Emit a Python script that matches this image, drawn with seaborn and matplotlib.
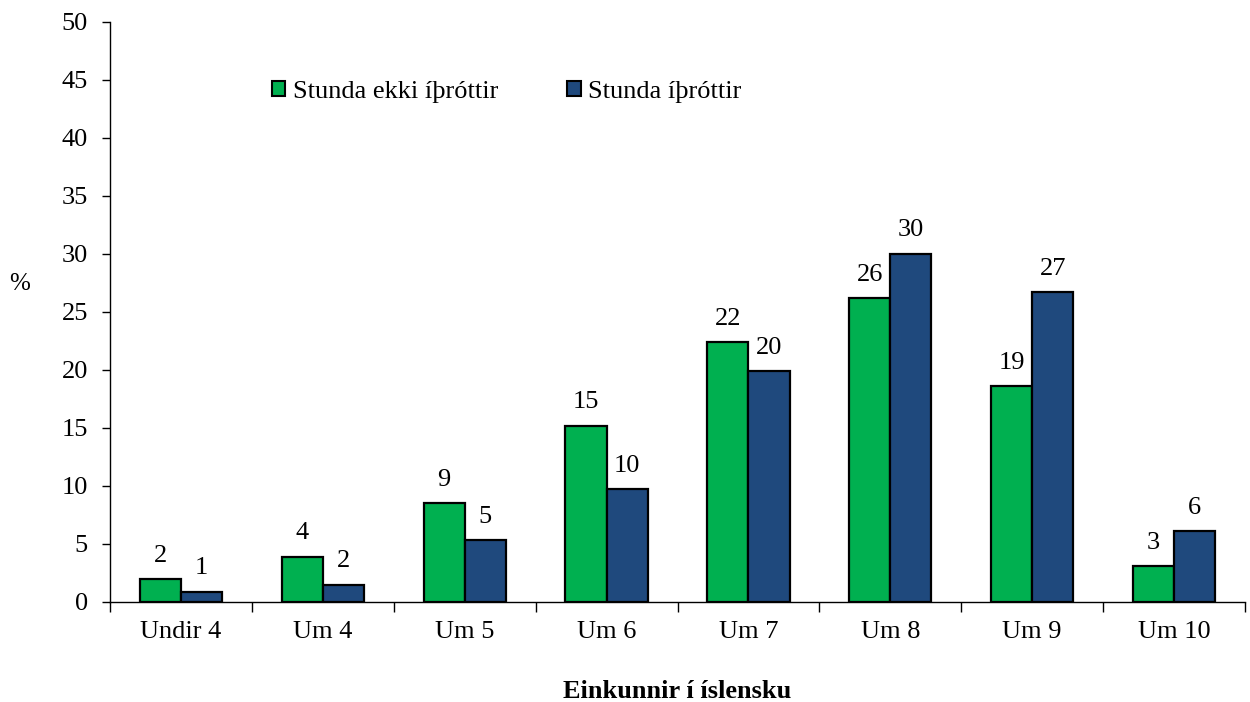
import pandas as pd
import numpy as np
import matplotlib
matplotlib.use("Agg")
import matplotlib.pyplot as plt
import seaborn as sns

categories = ["Undir 4", "Um 4", "Um 5", "Um 6", "Um 7", "Um 8", "Um 9", "Um 10"]
ekki = [1.95, 3.9, 8.5, 15.2, 22.4, 26.2, 18.6, 3.1]
stunda = [0.9, 1.5, 5.3, 9.7, 19.9, 30.0, 26.7, 6.1]
series_names = ["Stunda ekki íþróttir", "Stunda íþróttir"]
colors = ["#00B050", "#1F497D"]

df = pd.DataFrame({
    "cat": categories * 2,
    "val": ekki + stunda,
    "group": [series_names[0]] * len(categories) + [series_names[1]] * len(categories),
})

sns.set_style("white")
plt.rcParams["font.family"] = ["Liberation Serif", "DejaVu Serif"]
plt.rcParams["text.color"] = "black"
plt.rcParams["xtick.color"] = "black"
plt.rcParams["ytick.color"] = "black"

fs = 19

fig = plt.figure(figsize=(12.5, 7.02), dpi=100)
ax = fig.add_axes([0.088, 0.1425, 0.908, 0.8262])

sns.barplot(data=df, x="cat", y="val", hue="group", palette=colors, saturation=1,
            width=0.58, edgecolor="black", linewidth=1.6, ax=ax, legend=True)

for cont in ax.containers:
    labels = [f"{int(v + 0.5):d}" for v in cont.datavalues]
    ax.bar_label(cont, labels=labels, padding=9, fontsize=fs, color="black")

ax.set_ylim(0, 50)
ax.set_yticks(range(0, 51, 5))
ax.set_xlim(-0.5, 7.5)
ax.set_xticks(range(len(categories)))
ax.set_xticklabels(categories)
ax.set_xticks(np.arange(-0.5, 8, 1), minor=True)
ax.tick_params(axis="x", which="major", length=0, pad=14, labelsize=fs)
ax.tick_params(axis="x", which="minor", length=7, width=1, color="black", direction="out", bottom=True)
ax.tick_params(axis="y", length=6, width=1, color="black", direction="out", left=True, labelsize=fs, pad=10)

for s in ["top", "right"]:
    ax.spines[s].set_visible(False)
for s in ["left", "bottom"]:
    ax.spines[s].set_color("black")
    ax.spines[s].set_linewidth(1)

ax.set_xlabel("Einkunnir í íslensku", fontsize=fs, fontweight="bold", labelpad=26, color="black")
ax.set_ylabel("")
fig.text(0.016, 0.595, "%", fontsize=fs - 1, ha="center", va="center")

leg = ax.legend(loc="upper left", bbox_to_anchor=(0.122, 0.94), ncol=2, frameon=False,
                fontsize=fs, handlelength=0.5, handleheight=0.5, handletextpad=0.3,
                columnspacing=2.6)
for h in leg.legend_handles:
    h.set_edgecolor("black")
    h.set_linewidth(1.5)

fig.savefig("out.png", dpi=100)
